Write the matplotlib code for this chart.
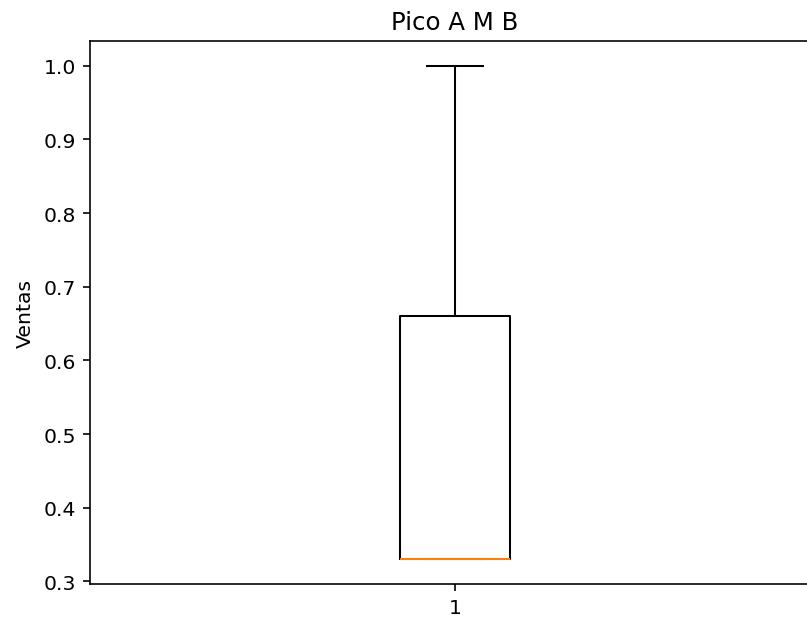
import matplotlib
matplotlib.use("Agg")
import matplotlib.pyplot as plt

ventas = [0.33, 0.33, 0.33, 0.66, 1.0]
title = "Pico A M B"
ylabel = "Ventas"

DPI = 147
fig = plt.figure(figsize=(807 / DPI, 621 / DPI), dpi=DPI)
ax = fig.add_axes([90 / 807, (621 - 585) / 621, 730 / 807, 543 / 621])
ax.boxplot(ventas, widths=0.152)
ax.set_title(title)
ax.set_ylabel(ylabel)
fig.savefig("out.png", dpi=DPI)
